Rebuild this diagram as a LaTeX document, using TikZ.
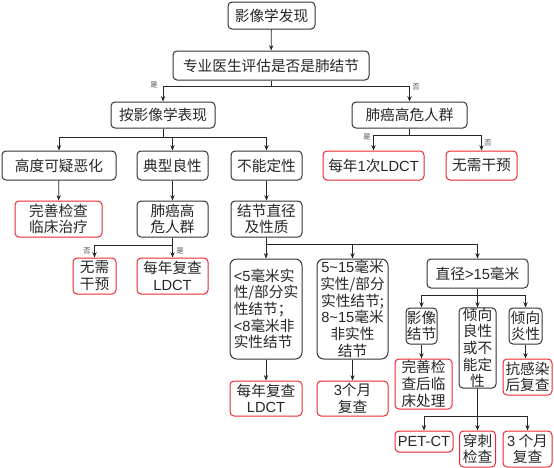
\documentclass[tikz,border=0pt]{standalone}
\usepackage{fontspec}
\setmainfont{Noto Sans CJK SC}
\newfontfamily\latfont{Liberation Sans}
\newcommand{\latn}[1]{{\latfont #1}}
\usetikzlibrary{arrows.meta}
\definecolor{boxred}{RGB}{235,40,45}
\begin{document}
\begin{tikzpicture}[x=0.75pt,y=-0.75pt,
  box/.style={draw=black!80, rounded corners=3pt, line width=0.75pt, inner sep=0pt, align=center,
    font=\fontsize{11}{12.5}\selectfont, text=black!85},
  rbox/.style={box, draw=boxred},
  sz/.style 2 args={minimum width=#1*0.75pt, minimum height=#2*0.75pt},
  arr/.style={-{Stealth[length=4pt,width=3.2pt]}, line width=0.6pt, draw=black!85},
  lbl/.style={font=\fontsize{5.5}{6}\selectfont, text=black!70, inner sep=0pt}]
\useasboundingbox (0,0) rectangle (554,468);

% level 0-1
\node[box, sz={87}{27}] (top) at (271.5,15.5) {影像学发现};
\node[box, sz={196}{29}] (q) at (271,65.5) {专业医生评估是否是肺结节};
\node[box, sz={104}{26}] (a) at (163,115) {按影像学表现};
\node[box, sz={115}{26}] (b) at (409.5,115) {肺癌高危人群};

% left branch
\node[box, sz={114}{29}] (c1) at (59,165.5) {高度可疑恶化};
\node[box, sz={71}{29}] (c2) at (172.5,165.5) {典型良性};
\node[box, sz={71}{29}] (c3) at (266.5,165.5) {不能定性};
\node[rbox, sz={87}{36}] (d1) at (58.5,219) {完善检查\\临床治疗};
\node[box, sz={71}{36}] (d2) at (172.5,219) {肺癌高\\危人群};
\node[box, sz={71}{36}] (d3) at (266.5,219) {结节直径\\及性质};
\node[rbox, sz={43}{36}] (e1) at (94.5,276) {无需\\干预};
\node[rbox, sz={71}{36}] (e2) at (172.5,276) {每年复查\\\latn{LDCT}};

% right branch
\node[rbox, sz={101}{29}] (b1) at (373.5,165.5) {每年\latn{1}次\latn{LDCT}};
\node[rbox, sz={71}{29}] (b2) at (481.5,165.5) {无需干预};

% nodule size
\node[box, sz={72}{100}, rounded corners=5pt, align=left] (f1) at (266,309) {\latn{<5}毫米实\\性/部分实\\性结节；\\\latn{<8}毫米非\\实性结节};
\node[box, sz={71}{100}, rounded corners=5pt] (f2) at (352.5,309) {\latn{5\textasciitilde15}毫米\\实性/部分\\实性结节;\\\latn{8\textasciitilde15}毫米\\非实性\\结节};
\node[box, sz={101}{29}] (f3) at (477.5,273.5) {直径\latn{>15}毫米};
\node[rbox, sz={72}{35}] (i1) at (266,398.5) {每年复查\\\latn{LDCT}};
\node[rbox, sz={71}{35}] (i2) at (352.5,398.5) {\latn{3}个月\\复查};

% >15 mm
\node[box, sz={31}{36}] (g1) at (421.5,326) {影像\\结节};
\node[box, sz={37}{80}] (g2) at (477.5,348) {倾向\\良性\\或不\\能定\\性};
\node[box, sz={33}{36}] (g3) at (525.5,326) {倾向\\炎性};
\node[rbox, sz={57}{50}] (h1) at (423.5,384) {完善检\\查后临\\床处理};
\node[rbox, sz={49}{36}] (h3) at (527.5,377) {抗感染\\后复查};
\node[rbox, sz={58}{21}] (j1) at (424,441.5) {\latn{PET-CT}};
\node[rbox, sz={36}{36}] (j2) at (477.5,449) {穿刺\\检查};
\node[rbox, sz={49}{36}] (j3) at (527.5,449) {\latn{3} 个月\\复查};

% connectors
\draw[arr] (top) -- (q);
\draw[arr] (q.south) -- ++(0,6) -| (a.north);
\draw[arr] (q.south) -- ++(0,6) -| (b.north);
\node[lbl] at (154,85) {是};
\node[lbl] at (416,87) {否};

\draw[arr] (a.south) -- ++(0,9) -| (c1.north);
\draw[arr] (a.south) -- ++(0,9) -| (c2.north);
\draw[arr] (a.south) -- ++(0,9) -| (c3.north);
\draw[arr] (c1) -- (d1);
\draw[arr] (c2) -- (d2);
\draw[arr] (c3) -- (d3);
\draw[arr] (d2.south) -- ++(0,8) -| (e1.north);
\draw[arr] (d2) -- (e2);
\node[lbl] at (87,251) {否};
\node[lbl] at (180,251) {是};

\draw[arr] (b.south) -- ++(0,7) -| (b1.north);
\draw[arr] (b.south) -- ++(0,7) -| (b2.north);
\node[lbl] at (367,137) {是};
\node[lbl] at (488,143) {否};

\draw[arr] (d3.south) -- ++(0,7) -| (f1.north);
\draw[arr] (d3.south) -- ++(0,7) -| (f2.north);
\draw[arr] (d3.south) -- ++(0,7) -| (f3.north);
\draw[arr] (f1) -- (i1);
\draw[arr] (f2) -- (i2);

\draw[arr] (f3.south) -- ++(0,7) -| (g1.north);
\draw[arr] (f3.south) -- (g2.north);
\draw[arr] (f3.south) -- ++(0,7) -| (g3.north);
\draw[arr] (g1) -- (g1 |- h1.north);
\draw[arr] (g3) -- (g3 |- h3.north);
\draw[arr] (g2.south) -- ++(0,28) -| (j1.north);
\draw[arr] (g2) -- (j2);
\draw[arr] (g2.south) -- ++(0,28) -| (j3.north);
\end{tikzpicture}
\end{document}
